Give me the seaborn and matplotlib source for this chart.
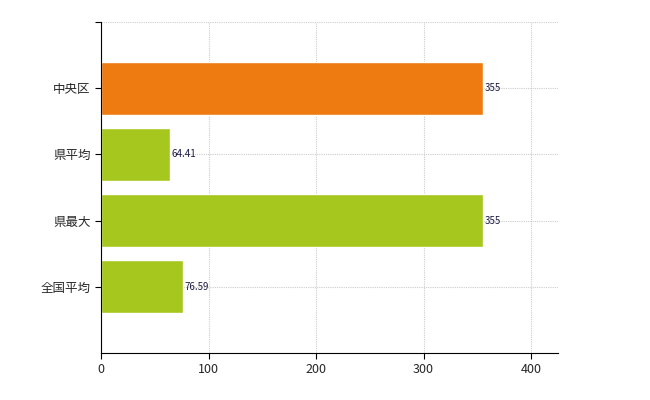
import matplotlib
matplotlib.use("Agg")
import matplotlib.pyplot as plt
import seaborn as sns
import pandas as pd

categories = ["中央区", "県平均", "県最大", "全国平均"]
values = [355, 64.41, 355, 76.59]
labels = ["355", "64.41", "355", "76.59"]
colors = ["#EE7A12", "#A6C81E", "#A6C81E", "#A6C81E"]

sns.set_style("white")
plt.rcParams['font.family'] = ['Noto Sans CJK JP', 'DejaVu Sans']

df = pd.DataFrame({"cat": categories, "val": values})
fig = plt.figure(figsize=(6.5, 4), dpi=100)
ax = fig.add_axes([101/650, 47/400, 457/650, 331/400])
sns.barplot(data=df, x="val", y="cat", hue="cat", palette=colors, legend=False,
            width=0.8, saturation=1, ax=ax, order=categories)
ax.set_xlim(0, 425)
ax.set_ylim(4, -1)
ax.set_xticks([0, 100, 200, 300, 400])
ax.set_yticks([-1, 0, 1, 2, 3])
ax.set_yticklabels([""] + categories)
ax.grid(True, color="#cccccc", linestyle=(0, (1, 1)), linewidth=0.8)
ax.set_axisbelow(True)
for s in ["top", "right"]:
    ax.spines[s].set_visible(False)
for s in ["left", "bottom"]:
    ax.spines[s].set_color("black")
ax.tick_params(axis="both", length=4, color="black", labelsize=9, direction="out", left=True, bottom=True)
ax.set_xlabel("")
ax.set_ylabel("")
for i, (v, l) in enumerate(zip(values, labels)):
    ax.text(v + 1.5, i, l, va="center", ha="left", fontsize=7, color="#1a1a40")
fig.savefig("out.png", dpi=100)
